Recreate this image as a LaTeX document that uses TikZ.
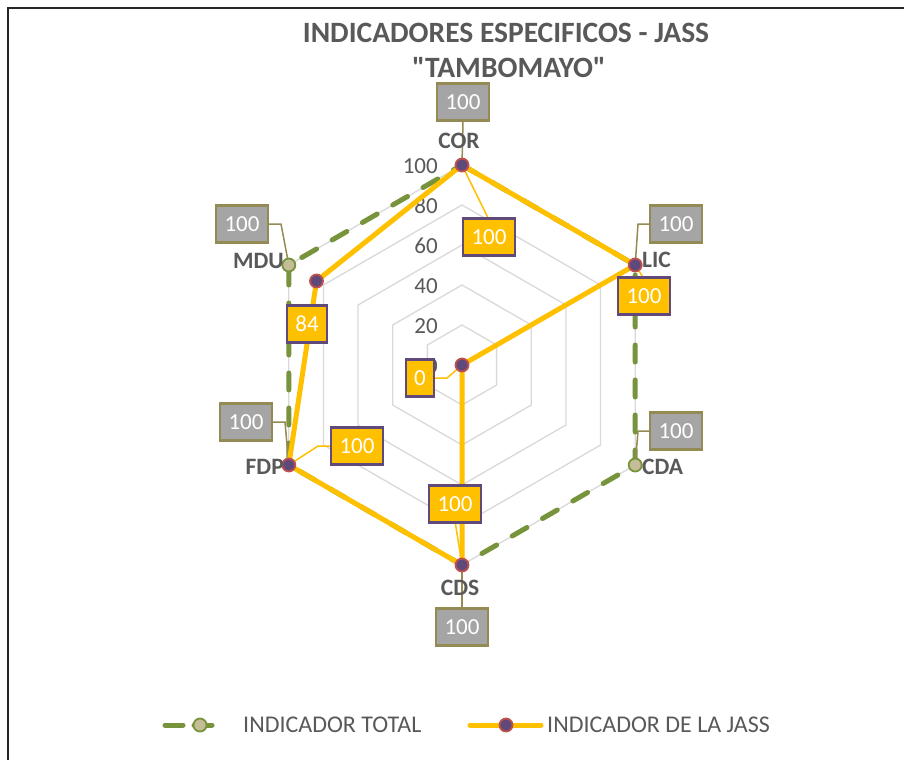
\documentclass[tikz,border=0pt]{standalone}
\usepackage{fontspec}
\setmainfont{Carlito}[Ligatures=TeXOff]
\usetikzlibrary{calc}
\begin{document}
\begin{tikzpicture}[x=1pt,y=-1pt,
  grid/.style={draw=gridgray,line width=1.3pt},
  totline/.style={draw=olivegreen,line width=5pt,line cap=round,dash pattern=on 17pt off 18pt},
  jassline/.style={draw=gold,line width=5pt,line join=round},
  totmark/.style={circle,draw=olivegreen,fill=beige,line width=1.8pt,minimum size=13pt,inner sep=0pt},
  jassmark/.style={circle,draw=redbrd,fill=purplef,line width=1.8pt,minimum size=13pt,inner sep=0pt},
  totlab/.style={draw=olive,fill=labgray,line width=2.2pt,text=white,font=\fontsize{23}{23}\selectfont,minimum height=37pt,inner xsep=8.5pt,inner ysep=0pt},
  jasslab/.style={draw=purplebrd,fill=gold,line width=2.2pt,text=white,font=\fontsize{23}{23}\selectfont,minimum height=37pt,inner xsep=8.5pt,inner ysep=0pt},
  totlead/.style={draw=olive,line width=1.5pt},
  jasslead/.style={draw=gold,line width=1.5pt},
  catlab/.style={text=tgray,font=\bfseries\fontsize{23.5}{23.5}\selectfont,inner sep=0pt},
  axlab/.style={text=tgray,font=\fontsize{23}{23}\selectfont,inner sep=0pt,anchor=east},
  legtext/.style={text=tgray,font=\fontsize{24}{24}\selectfont,anchor=west,inner sep=0pt},
]
\definecolor{tgray}{HTML}{595959}
\definecolor{gridgray}{HTML}{D9D9D9}
\definecolor{olivegreen}{HTML}{77933C}
\definecolor{beige}{HTML}{C4BD97}
\definecolor{gold}{HTML}{FFC000}
\definecolor{redbrd}{HTML}{C0504D}
\definecolor{purplef}{HTML}{5F497A}
\definecolor{purplebrd}{HTML}{604A7B}
\definecolor{olive}{HTML}{948A54}
\definecolor{labgray}{HTML}{A5A5A5}

\useasboundingbox (0,0) rectangle (904,760);
\fill[white] (0,0) rectangle (904,760);
\draw[line width=2.2pt,draw=black!85] (8,760) -- (8,8) -- (904,8);

% title
\node[text=tgray,font=\bfseries\fontsize{29.5}{29.5}\selectfont,inner sep=0pt] (t1) at (506,33) {INDICADORES ESPECIFICOS - JASS};
\node[text=tgray,font=\bfseries\fontsize{29.5}{29.5}\selectfont,inner sep=0pt] (t2) at (509,68) {"TAMBOMAYO"};

% grid rings
\coordinate (c) at (462,365);
\foreach \r in {40,80,120,160,200}{
  \draw[grid] ($(c)+(90:\r)$) -- ($(c)+(30:\r)$) -- ($(c)+(-30:\r)$) -- ($(c)+(-90:\r)$) -- ($(c)+(-150:\r)$) -- ($(c)+(150:\r)$) -- cycle;
}
% axis labels
\node[axlab] (a100) at (438,166) {100};
\node[axlab] (a80) at (438,206) {80};
\node[axlab] (a60) at (438,246) {60};
\node[axlab] (a40) at (438,286) {40};
\node[axlab] (a20) at (438,326) {20};
\node[axlab] (a0) at (438,366) {0};

% total series points
\coordinate (tCOR) at (462,165);
\coordinate (tLIC) at (635.2,265);
\coordinate (tCDA) at (635.2,465);
\coordinate (tCDS) at (462,565);
\coordinate (tFDP) at (288.8,465);
\coordinate (tMDU) at (288.8,265);
% jass series points
\coordinate (jCOR) at (462,165);
\coordinate (jLIC) at (635.2,265);
\coordinate (jCDA) at (462,365);
\coordinate (jCDS) at (462,565);
\coordinate (jFDP) at (288.8,465);
\coordinate (jMDU) at (316.5,281);

\draw[totline] (tCOR) -- (tLIC) -- (tCDA) -- (tCDS) -- (tFDP) -- (tMDU) -- cycle;

% total labels
\node[totlab] (lCOR) at (463,102) {100};
\node[totlab] (lMDU) at (242,224) {100};
\node[totlab] (lLIC) at (676,224) {100};
\node[totlab] (lCDA) at (676,431) {100};
\node[totlab] (lFDP) at (246,422) {100};
\node[totlab] (lCDS) at (462,627) {100};
\draw[totlead] (lCOR.south) -- (tCOR);
\draw[totlead] (lMDU.east) -- (281,224) -- (tMDU);
\draw[totlead] (lLIC.west) -- (638,224) -- (tLIC);
\draw[totlead] (lCDA.west) -- (638,431) -- (tCDA);
\draw[totlead] (lFDP.east) -- (285,422) -- (tFDP);
\draw[totlead] (lCDS.north) -- (tCDS);

\draw[jassline] (jCOR) -- (jLIC) -- (jCDA) -- (jCDS) -- (jFDP) -- (jMDU) -- cycle;

% jass leaders
\draw[jasslead] (489,220) -- (jCOR);
\draw[jasslead] (644,279) -- (jLIC);
\draw[jasslead] (435,378) -- (447,378) -- (jCDA);
\draw[jasslead] (455,521) -- (jCDS);
\draw[jasslead] (331,446) -- (318,446) -- (jFDP);
\draw[jasslead] (312,307) -- (jMDU);

% markers
\node[totmark] (mMDU) at (tMDU) {};
\node[totmark] (mCDA) at (tCDA) {};
\node[jassmark] (nCOR) at (jCOR) {};
\node[jassmark] (nLIC) at (jLIC) {};
\node[jassmark] (nCDA) at (jCDA) {};
\node[jassmark] (nCDS) at (jCDS) {};
\node[jassmark] (nFDP) at (jFDP) {};
\node[jassmark] (nMDU) at (jMDU) {};

% jass labels
\node[jasslab] (kCOR) at (489,237) {100};
\node[jasslab] (kLIC) at (644,296) {100};
\node[jasslab] (kCDA) at (420,378) {0};
\node[jasslab] (kCDS) at (455,504) {100};
\node[jasslab] (kFDP) at (357,446) {100};
\node[jasslab] (kMDU) at (307,324) {84};

% category labels
\node[catlab] (cCOR) at (459,141) {COR};
\node[catlab,anchor=west] (cLIC) at (642,260) {LIC};
\node[catlab,anchor=west] (cCDA) at (642,467) {CDA};
\node[catlab] (cCDS) at (460,588) {CDS};
\node[catlab,anchor=east] (cFDP) at (284,467) {FDP};
\node[catlab,anchor=east] (cMDU) at (284,261) {MDU};

% legend
\coordinate (g1) at (165,725);
\coordinate (g2) at (230,725);
\draw[totline,dash pattern=on 18pt off 11pt on 18pt off 100pt] (g1) -- (g2);
\node[totmark] (gm) at (200,725) {};
\node[legtext] (gt) at (243,725) {INDICADOR TOTAL};
\coordinate (h1) at (470,725);
\coordinate (h2) at (541,725);
\draw[jassline,line cap=round] (h1) -- (h2);
\node[jassmark] (hm) at (506,725) {};
\node[legtext] (ht) at (547,725) {INDICADOR DE LA JASS};
\end{tikzpicture}
\end{document}
